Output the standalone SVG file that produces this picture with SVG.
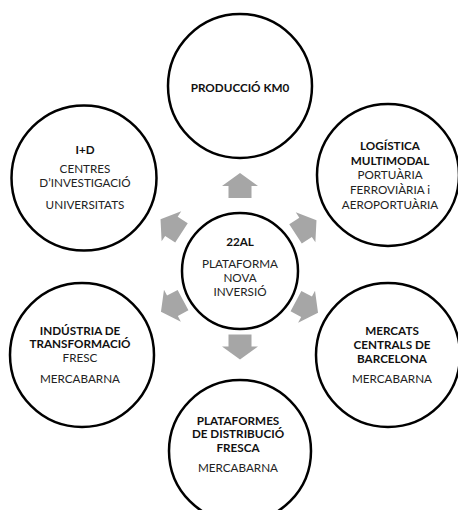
<svg xmlns="http://www.w3.org/2000/svg" width="458" height="510" viewBox="0 0 458 510">
<defs>
<style>
.c{fill:#fff;stroke:#000;stroke-width:2.5}
text{font-family:Lato,"Open Sans","Liberation Sans",sans-serif;font-size:11.7px;fill:#222;text-anchor:middle}
.b{font-weight:bold;fill:#111}
.a{fill:#a6a6a6}
</style>
<polygon id="arr" class="a" points="0,-12.5 18,0.5 11.5,0.5 11.5,12.5 -11.5,12.5 -11.5,0.5 -18,0.5"/>
</defs>
<rect width="458" height="510" fill="#fff"/>
<g id="connectors">
<use href="#arr" transform="translate(240,185.5)"/>
<use href="#arr" transform="translate(240,347) rotate(180)"/>
<use href="#arr" transform="translate(171,226) rotate(-57)"/>
<use href="#arr" transform="translate(306,227) rotate(57)"/>
<use href="#arr" transform="translate(172,306) rotate(-118)"/>
<use href="#arr" transform="translate(307,307) rotate(118)"/>
</g>
<g id="center">
<circle class="c" cx="240" cy="271" r="58"/>
<text class="b" x="240" y="246">22AL</text>
<text x="240" y="268">PLATAFORMA</text>
<text x="240" y="282">NOVA</text>
<text x="240" y="296">INVERSIÓ</text>
</g>
<g id="produccio">
<circle class="c" cx="240" cy="86" r="72"/>
<text class="b" x="240" y="92">PRODUCCIÓ KM0</text>
</g>
<g id="recerca">
<circle class="c" cx="84" cy="178" r="72.5"/>
<text class="b" x="85" y="154">I+D</text>
<text x="85" y="173">CENTRES</text>
<text x="85" y="187">D’INVESTIGACIÓ</text>
<text x="85" y="209">UNIVERSITATS</text>
</g>
<g id="logistica">
<circle class="c" cx="388" cy="175" r="71"/>
<text class="b" x="390" y="150">LOGÍSTICA</text>
<text class="b" x="390" y="165">MULTIMODAL</text>
<text x="390" y="179">PORTUÀRIA</text>
<text x="390" y="194">FERROVIÀRIA i</text>
<text x="390" y="209">AEROPORTUÀRIA</text>
</g>
<g id="industria">
<circle class="c" cx="82" cy="355" r="72"/>
<text class="b" x="80" y="335">INDÚSTRIA DE</text>
<text class="b" x="80" y="348">TRANSFORMACIÓ</text>
<text x="80" y="362">FRESC</text>
<text x="80" y="383">MERCABARNA</text>
</g>
<g id="mercats">
<circle class="c" cx="388" cy="355" r="72"/>
<text class="b" x="392" y="335">MERCATS</text>
<text class="b" x="392" y="349">CENTRALS DE</text>
<text class="b" x="392" y="363">BARCELONA</text>
<text x="392" y="383">MERCABARNA</text>
</g>
<g id="plataformes">
<circle class="c" cx="240" cy="451" r="71"/>
<text class="b" x="238" y="425">PLATAFORMES</text>
<text class="b" x="238" y="438">DE DISTRIBUCIÓ</text>
<text class="b" x="238" y="452">FRESCA</text>
<text x="238" y="472">MERCABARNA</text>
</g>
</svg>
